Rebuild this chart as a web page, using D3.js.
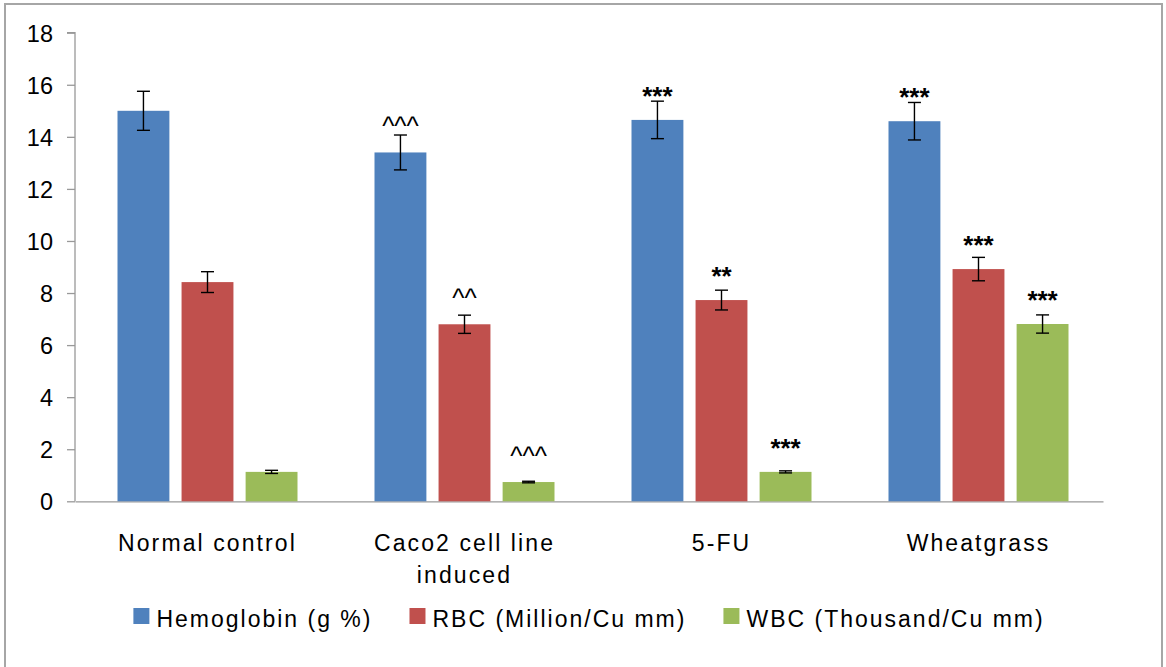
<!DOCTYPE html>
<html>
<head>
<meta charset="utf-8">
<script src="https://cdn.jsdelivr.net/npm/d3@7"></script>
<style>
  body { margin: 0; background: #fff; }
  svg text { font-family: "Liberation Sans", Arial, sans-serif; fill: #000; }
</style>
</head>
<body>
<div id="chart"></div>
<script>
// Datos
const categories = ['Normal control', 'Caco2 cell line induced', '5-FU', 'Wheatgrass'];
const seriesNames = ['Hemoglobin (g %)', 'RBC (Million/Cu mm)', 'WBC (Thousand/Cu mm)'];
const seriesColors = ['#4F81BD', '#C0504D', '#9BBB59'];

const hemoglobin = [15.0, 13.4, 14.65, 14.6];
const hemoglobinErr = [0.75, 0.67, 0.72, 0.72];
const rbc = [8.42, 6.8, 7.73, 8.92];
const rbcErr = [0.4, 0.35, 0.38, 0.45];
const wbc = [1.13, 0.74, 1.13, 6.81];
const wbcErr = [0.06, 0.03, 0.04, 0.35];

const hemoglobinSig = ['', '^^^', '***', '***'];
const rbcSig = ['', '^^', '**', '***'];
const wbcSig = ['', '^^^', '***', '***'];

const yTicks = [0, 2, 4, 6, 8, 10, 12, 14, 16, 18];

// Tabla para la librería
const values = [hemoglobin, rbc, wbc];
const errors = [hemoglobinErr, rbcErr, wbcErr];
const sigs = [hemoglobinSig, rbcSig, wbcSig];
let data = [];
categories.forEach(function(c, i) {
    seriesNames.forEach(function(s, j) {
        data.push({cat: c, serie: s, idx: j, value: values[j][i], err: errors[j][i], sig: sigs[j][i]});
    });
});

const W = 1166, H = 667;
let svg = d3.select('#chart').append('svg')
    .attr('width', W)
    .attr('height', H);

//Marco exterior
svg.append('rect')
    .attr('x', 5).attr('y', 4)
    .attr('width', 1157).attr('height', 700)
    .attr('fill', 'none')
    .attr('stroke', '#a6a6a6')
    .attr('stroke-width', 2);

let plotLeft = 75, plotRight = 1103, plotTop = 32.7, plotBottom = 501.3;

//Escalas
let x0 = d3.scaleBand()
    .domain(categories)
    .range([plotLeft, plotRight])
    .padding(0);

let groupW = 180;
let x1 = d3.scaleBand()
    .domain(seriesNames)
    .range([0, groupW])
    .paddingInner(0.19);
let groupOffset = (x0.bandwidth() - groupW) / 2 + 4;

let y = d3.scaleLinear()
    .domain([0, 18])
    .range([plotBottom, plotTop]);

//Eje Y
let yAxis = svg.append('g')
    .attr('transform', `translate(${plotLeft},0)`)
    .call(d3.axisLeft(y).tickValues(yTicks).tickSize(8).tickPadding(14));
yAxis.selectAll('.tick line').attr('stroke', '#999').attr('stroke-width', 1.3);
yAxis.select('.domain').attr('stroke', '#999').attr('stroke-width', 1.3)
    .attr('d', `M-8,${plotTop}H0V${plotBottom}`);
yAxis.selectAll('.tick text')
    .style('font-size', '23.5px')
    .attr('dy', '0.36em');

//Eje X
let xAxis = svg.append('g')
    .attr('transform', `translate(0,${plotBottom})`)
    .call(d3.axisBottom(x0).tickSize(0).tickFormat(''));
xAxis.select('.domain').attr('stroke', '#999').attr('stroke-width', 1.3);

//Etiquetas de categorías (con salto de línea)
svg.append('g').selectAll('text')
    .data(categories)
    .enter()
    .append('text')
    .attr('text-anchor', 'middle')
    .style('font-size', '23px')
    .style('letter-spacing', '2.1px')
    .each(function(d) {
        let t = d3.select(this);
        let cx = x0(d) + x0.bandwidth() / 2 + 4;
        let lines = d.length > 16 ? [d.slice(0, d.lastIndexOf(' ')), d.slice(d.lastIndexOf(' ') + 1)] : [d];
        lines.forEach(function(l, k) {
            t.append('tspan').attr('x', cx).attr('y', 551 + k * 32).text(l);
        });
    });

//Barras
let bars = svg.append('g').selectAll('.bar')
    .data(data)
    .enter();

bars.append('rect')
    .attr('class', 'bar')
    .attr('x', function(d) { return x0(d.cat) + groupOffset + x1(d.serie); })
    .attr('width', x1.bandwidth())
    .attr('y', function(d) { return y(d.value); })
    .attr('height', function(d) { return y(0) - y(d.value); })
    .style('fill', function(d) { return seriesColors[d.idx]; });

//Barras de error
let errG = svg.append('g').attr('stroke', '#000').attr('stroke-width', 1.4);
data.forEach(function(d) {
    let cx = x0(d.cat) + groupOffset + x1(d.serie) + x1.bandwidth() / 2;
    let y1 = y(d.value + d.err), y2 = y(d.value - d.err);
    errG.append('line').attr('x1', cx).attr('x2', cx).attr('y1', y1).attr('y2', y2);
    errG.append('line').attr('x1', cx - 6.5).attr('x2', cx + 6.5).attr('y1', y1).attr('y2', y1);
    errG.append('line').attr('x1', cx - 6.5).attr('x2', cx + 6.5).attr('y1', y2).attr('y2', y2);
});

//Marcas de significación
svg.append('g').selectAll('text')
    .data(data.filter(function(d) { return d.sig; }))
    .enter()
    .append('text')
    .attr('text-anchor', 'middle')
    .attr('x', function(d) { return x0(d.cat) + groupOffset + x1(d.serie) + x1.bandwidth() / 2; })
    .attr('y', function(d) { return y(d.value) - (d.sig[0] === '*' ? 15 : 17); })
    .style('font-size', '26px')
    .style('font-weight', function(d) { return d.sig[0] === '*' ? 'bold' : 'normal'; })
    .text(function(d) { return d.sig; });

//Leyenda
let legend = svg.append('g');
let items = legend.selectAll('g')
    .data(seriesNames)
    .enter()
    .append('g');
items.append('rect')
    .attr('width', 16).attr('height', 16)
    .attr('y', 608)
    .style('fill', function(d, i) { return seriesColors[i]; });
items.append('text')
    .attr('x', 23).attr('y', 627)
    .style('font-size', '23px')
    .style('letter-spacing', '2px')
    .text(function(d) { return d; });

let gap = 37, pos = [], acc = 0;
items.each(function(d, i) {
    pos.push(acc);
    acc += 23 + this.querySelector('text').getComputedTextLength() + (i < seriesNames.length - 1 ? gap : 0);
});
let startX = (plotLeft + plotRight) / 2 - acc / 2;
items.attr('transform', function(d, i) { return `translate(${startX + pos[i]},0)`; });
</script>
</body>
</html>
